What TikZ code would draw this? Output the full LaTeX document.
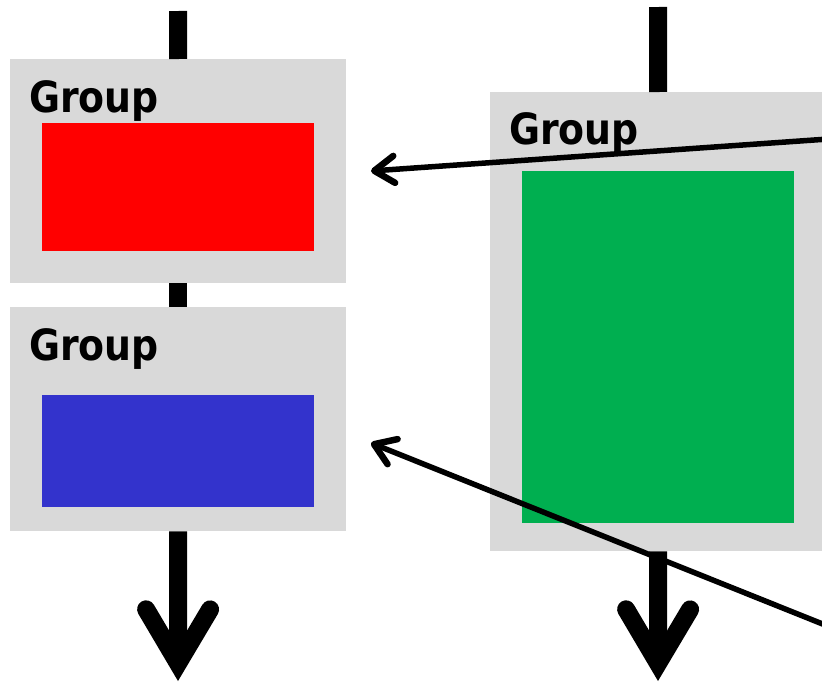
\documentclass[tikz,border=0pt]{standalone}
\usepackage{fontspec}
\newfontfamily\grpfont{DejaVu Sans}[FakeStretch=0.88]
\usetikzlibrary{arrows.meta,positioning}
\definecolor{grpGray}{HTML}{D9D9D9}
\definecolor{grpRed}{HTML}{FF0000}
\definecolor{grpBlue}{HTML}{3333CC}
\definecolor{grpGreen}{HTML}{00AF50}

\begin{document}
\begin{tikzpicture}[x=1pt, y=-1pt,
  group/.style={fill=grpGray, inner sep=0pt, anchor=north west, minimum width=336pt},
  inner/.style={inner sep=0pt, anchor=north west, minimum width=272pt},
  grplabel/.style={anchor=base west, inner sep=0pt, font=\grpfont\bfseries\fontsize{43}{48}\selectfont},
  flow/.style={line width=18pt},
  flowtip/.style={-{Straight Barb[length=54pt, width=64pt, line cap=round, line join=miter]}},
  link/.style={line width=5.5pt, -{Straight Barb[length=20pt, width=27pt, line width=6.5pt, line cap=round, line join=round]}}]
\useasboundingbox (0,0) rectangle (822,683);
\clip (0,0) rectangle (822,683);

% left column: two stacked groups
\node[group, minimum height=224pt] (grpA) at (10,59) {};
\node[grplabel] (lblA) at (29,112) {Group};
\node[inner, fill=grpRed, minimum height=128pt] (red) at (42,123) {};

\node[group, minimum height=224pt] (grpB) at (10,307) {};
\node[grplabel] (lblB) at (29,360) {Group};
\node[inner, fill=grpBlue, minimum height=112pt] (blue) at (42,395) {};

% right column: one tall group
\node[group, minimum height=459pt] (grpC) at (490,92) {};
\node[grplabel] (lblC) at (509,144) {Group};
\node[inner, fill=grpGreen, minimum height=352pt] (green) at (522,171) {};

% flow through the columns
\coordinate (inA) at (178,11);
\coordinate (outA) at (178,681);
\coordinate (inC) at (658,7);
\coordinate (outC) at (658,681);
\draw[flow] (inA) -- (grpA.north);
\draw[flow] (grpA.south) -- (grpB.north);
\draw[flow, flowtip] (grpB.south) -- (outA);
\draw[flow] (inC) -- (grpC.north);
\draw[flow, flowtip] (grpC.south) -- (outC);

% pointers from the right
\coordinate (fromTop) at (900,134);
\coordinate (toRed) at (371,171);
\coordinate (fromBot) at (900,655);
\coordinate (toBlue) at (371,443);
\draw[link] (fromTop) -- (toRed);
\draw[link] (fromBot) -- (toBlue);
\end{tikzpicture}
\end{document}
